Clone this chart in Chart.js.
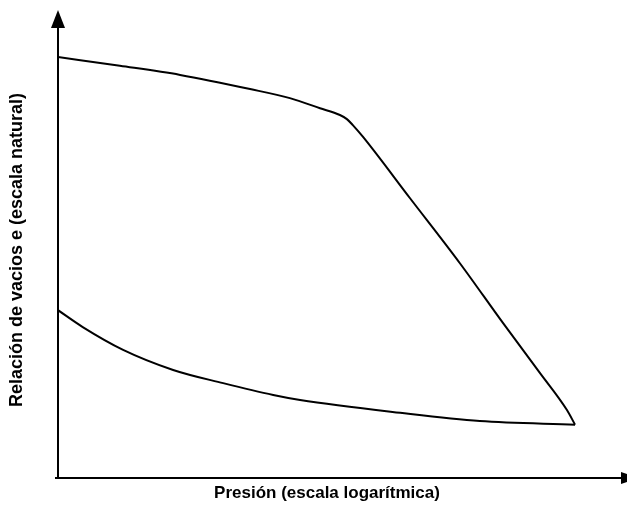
<!DOCTYPE html>
<html>
<head>
<meta charset="utf-8">
<script src="https://cdn.jsdelivr.net/npm/chart.js@4/dist/chart.umd.min.js"></script>
<style>
  html, body { margin: 0; padding: 0; background: #fff; overflow: hidden; }
  #wrap { width: 627px; height: 507px; }
</style>
</head>
<body>
<div id="wrap"><canvas id="c" width="627" height="507"></canvas></div>
<script>
// Curva de compresibilidad: relación de vacíos frente a log de la presión
// (unidades arbitrarias, sin graduación en los ejes)

// Rama de carga (tramo de recompresión y tramo virgen)
const cargaX = [0.00, 1.15, 2.27, 3.57, 4.31, 4.87, 5.24, 5.37, 5.48, 5.67, 6.54, 7.47, 8.27, 8.96, 9.46, 9.61];
const cargaE = [9.23, 9.04, 8.84, 8.53, 8.33, 8.11, 7.96, 7.87, 7.74, 7.48, 6.14, 4.71, 3.40, 2.30, 1.49, 1.17];

// Rama de descarga (expansión)
const descargaX = [0.00, 0.46, 1.21, 2.14, 3.07, 4.00, 4.50, 6.36, 7.84, 9.61];
const descargaE = [3.68, 3.31, 2.81, 2.37, 2.08, 1.82, 1.71, 1.43, 1.25, 1.17];

const tituloX = 'Presión (escala logarítmica)';
const tituloY = 'Relación de vacios e (escala natural)';

const pares = (xs, ys) => xs.map((x, i) => ({ x: x, y: ys[i] }));

// Puntas de flecha al final de cada eje
const flechas = {
  id: 'flechas',
  afterDraw(chart) {
    const { ctx, chartArea } = chart;
    const x0 = chartArea.left, y0 = chartArea.bottom;
    ctx.save();
    ctx.fillStyle = '#000';
    ctx.strokeStyle = '#000';
    ctx.lineWidth = 2;
    // eje vertical
    ctx.beginPath();
    ctx.moveTo(x0, chartArea.top);
    ctx.lineTo(x0, 24);
    ctx.stroke();
    ctx.beginPath();
    ctx.moveTo(x0, 10);
    ctx.lineTo(x0 - 7, 28);
    ctx.lineTo(x0 + 7, 28);
    ctx.closePath();
    ctx.fill();
    // eje horizontal
    ctx.beginPath();
    ctx.moveTo(chartArea.right, y0);
    ctx.lineTo(624, y0);
    ctx.stroke();
    ctx.beginPath();
    ctx.moveTo(638, y0);
    ctx.lineTo(621, y0 - 6);
    ctx.lineTo(621, y0 + 6);
    ctx.closePath();
    ctx.fill();
    // prolongación del eje horizontal a la izquierda
    ctx.beginPath();
    ctx.moveTo(55, y0);
    ctx.lineTo(x0, y0);
    ctx.stroke();
    ctx.restore();
  }
};

const linea = {
  borderColor: '#000',
  borderWidth: 2,
  pointRadius: 0,
  fill: false,
  cubicInterpolationMode: 'monotone'
};

new Chart(document.getElementById('c'), {
  type: 'line',
  data: {
    datasets: [
      Object.assign({ label: 'Carga', data: pares(cargaX, cargaE) }, linea),
      Object.assign({ label: 'Descarga', data: pares(descargaX, descargaE) }, linea)
    ]
  },
  options: {
    responsive: false,
    animation: false,
    events: [],
    layout: { padding: { left: 0, right: 31, top: 22, bottom: 0 } },
    plugins: { legend: { display: false }, tooltip: { enabled: false } },
    scales: {
      x: {
        type: 'linear',
        min: 0,
        max: 10,
        grid: { display: false, drawTicks: false },
        border: { display: true, color: '#000', width: 2 },
        ticks: { display: false },
        title: {
          display: true,
          text: tituloX,
          color: '#000',
          font: { family: 'Liberation Sans', size: 17, weight: 'bold' },
          padding: { top: 4.8, bottom: 3.8 }
        }
      },
      y: {
        type: 'linear',
        min: 0,
        max: 10,
        grid: { display: false, drawTicks: false },
        border: { display: true, color: '#000', width: 2 },
        ticks: { display: false },
        title: {
          display: true,
          text: tituloY,
          color: '#000',
          font: { family: 'Liberation Sans', size: 18, weight: 'bold' },
          padding: { top: 6.2, bottom: 30.2 }
        }
      }
    }
  },
  plugins: [flechas]
});
</script>
</body>
</html>
